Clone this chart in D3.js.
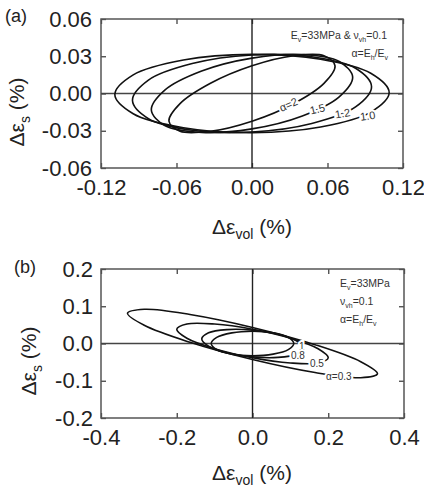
<!DOCTYPE html>
<html>
<head>
<meta charset="utf-8">
<script src="https://cdn.jsdelivr.net/npm/d3@7"></script>
<style>
  body { margin: 0; background: #fff; }
  svg { display: block; font-family: "Liberation Sans", Arial, sans-serif; }
</style>
</head>
<body>
<div id="chart"></div>
<script>
var svgWidth = 424;
var svgHeight = 487;

// tick values for both panels
var ticksAX = [-0.12, -0.06, 0, 0.06, 0.12];
var ticksAY = [-0.06, -0.03, 0, 0.03, 0.06];
var ticksBX = [-0.4, -0.2, 0, 0.2, 0.4];
var ticksBY = [-0.2, -0.1, 0, 0.1, 0.2];

// panel (a) loops, [dEvol, dEs] in %
var loopA_20 = [[0.066, 0.0223], [0.0572, 0.0304], [0.033, 0.0304], [0, 0.0223], [-0.033, 0.0082], [-0.0572, -0.0082],
  [-0.066, -0.0223], [-0.0572, -0.0304], [-0.033, -0.0304], [0, -0.0223], [0.033, -0.0082], [0.0572, 0.0082]];
var loopA_15 = [[0.080, 0.0133], [0.0693, 0.0258], [0.040, 0.0314], [0, 0.0285], [-0.040, 0.0181], [-0.0693, 0.0027],
  [-0.080, -0.0133], [-0.0693, -0.0258], [-0.040, -0.0314], [0, -0.0285], [0.040, -0.0181], [0.0693, -0.0027]];
var loopA_12 = [[0.095, 0.0055], [0.0823, 0.0203], [0.0475, 0.0296], [0, 0.0310], [-0.0475, 0.0241], [-0.0823, 0.0108],
  [-0.095, -0.0055], [-0.0823, -0.0203], [-0.0475, -0.0296], [0, -0.0310], [0.0475, -0.0241], [0.0823, -0.0108]];
var loopA_10 = [[0.109, 0.0008], [0.0944, 0.0163], [0.0545, 0.0276], [0, 0.0315], [-0.0545, 0.0270], [-0.0944, 0.0150],
  [-0.109, -0.0008], [-0.0944, -0.0163], [-0.0545, -0.0276], [0, -0.0315], [0.0545, -0.0270], [0.0944, -0.0150]];

// panel (b) loops
var loopB_03 = [[0.33, -0.0812], [0.2858, -0.0488], [0.165, -0.0032], [0, 0.0431], [-0.165, 0.0780], [-0.2858, 0.0919],
  [-0.33, 0.0812], [-0.2858, 0.0488], [-0.165, 0.0032], [0, -0.0431], [0.165, -0.0780], [0.2858, -0.0919]];
var loopB_05 = [[0.2, -0.0382], [0.1732, -0.0140], [0.1, 0.0140], [0, 0.0382], [-0.1, 0.0522], [-0.1732, 0.0522],
  [-0.2, 0.0382], [-0.1732, 0.0140], [-0.1, -0.0140], [0, -0.0382], [0.1, -0.0522], [0.1732, -0.0522]];
var loopB_08 = [[0.134, -0.0124], [0.116, 0.0073], [0.067, 0.0249], [0, 0.0359], [-0.067, 0.0373], [-0.116, 0.0287],
  [-0.134, 0.0124], [-0.116, -0.0073], [-0.067, -0.0249], [0, -0.0359], [0.067, -0.0373], [0.116, -0.0287]];
var loopB_10 = [[0.109, 0], [0.0944, 0.0165], [0.0545, 0.0286], [0, 0.033], [-0.0545, 0.0286], [-0.0944, 0.0165],
  [-0.109, 0], [-0.0944, -0.0165], [-0.0545, -0.0286], [0, -0.033], [0.0545, -0.0286], [0.0944, -0.0165]];

// curve labels: text, x, y (data units), rotation
var labelsA = [["α=2", 0.029, -0.009, -24], ["1.5", 0.052, -0.0125, -14], ["1.2", 0.072, -0.016, -10], ["1.0", 0.092, -0.018, -8]];
var labelsB = [["1", 0.13, -0.008, 0], ["0.8", 0.12, -0.031, 0], ["0.5", 0.17, -0.053, 0], ["α=0.3", 0.228, -0.088, 0]];

var svg = d3.select("#chart").append("svg")
  .attr("width", svgWidth)
  .attr("height", svgHeight);

var lineGen = d3.line().curve(d3.curveCatmullRomClosed.alpha(0.5));

function drawPanel(opt) {
  var x = d3.scaleLinear().domain(opt.xDomain).range([opt.left, opt.right]);
  var y = d3.scaleLinear().domain(opt.yDomain).range([opt.bottom, opt.top]);
  var g = svg.append("g");

  var inner = -5;
  function strip(sel) { sel.select(".domain").remove(); }

  var bx = g.append("g").attr("transform", "translate(0," + opt.bottom + ")")
    .call(d3.axisBottom(x).tickValues(opt.xTicks).tickSize(inner).tickPadding(opt.padX).tickFormat(opt.fmtX));
  var lx = g.append("g").attr("transform", "translate(" + opt.left + ",0)")
    .call(d3.axisLeft(y).tickValues(opt.yTicks).tickSize(inner).tickPadding(opt.padY).tickFormat(opt.fmtY));
  var tx = g.append("g").attr("transform", "translate(0," + opt.top + ")")
    .call(d3.axisTop(x).tickValues(opt.xTicks).tickSize(inner).tickFormat(""));
  var rx = g.append("g").attr("transform", "translate(" + opt.right + ",0)")
    .call(d3.axisRight(y).tickValues(opt.yTicks).tickSize(inner).tickFormat(""));
  [bx, lx, tx, rx].forEach(function(a) {
    strip(a);
    a.selectAll("line").attr("stroke", "#444").attr("stroke-width", 1.3);
    a.selectAll("text").attr("font-size", 22).attr("fill", "#222")
      .attr("font-family", "'Liberation Sans', Arial, sans-serif");
  });

  // frame
  g.append("rect")
    .attr("x", opt.left).attr("y", opt.top)
    .attr("width", opt.right - opt.left).attr("height", opt.bottom - opt.top)
    .attr("fill", "none").attr("stroke", "#555").attr("stroke-width", 1.5);

  // zero lines
  g.append("line").attr("x1", opt.left).attr("x2", opt.right)
    .attr("y1", y(0)).attr("y2", y(0)).attr("stroke", "#444").attr("stroke-width", 1.4);
  g.append("line").attr("x1", x(0)).attr("x2", x(0))
    .attr("y1", opt.top).attr("y2", opt.bottom).attr("stroke", "#222").attr("stroke-width", 1.4);

  g.selectAll("path.loop")
    .data(opt.loops)
    .enter()
    .append("path")
    .attr("class", "loop")
    .attr("d", function(d) {
      return lineGen(d.map(function(p) { return [x(p[0]), y(p[1])]; }));
    })
    .attr("fill", "none")
    .attr("stroke", "#111")
    .attr("stroke-width", 1.6);

  g.selectAll("text.clab")
    .data(opt.labels)
    .enter()
    .append("text")
    .attr("class", "clab")
    .attr("transform", function(d) {
      return "translate(" + x(d[1]) + "," + y(d[2]) + ") rotate(" + d[3] + ")";
    })
    .attr("text-anchor", "middle")
    .attr("dy", "0.35em")
    .attr("font-size", opt.labelSize)
    .attr("fill", "#333")
    .attr("stroke", "#fff")
    .attr("stroke-width", 4)
    .attr("paint-order", "stroke")
    .text(function(d) { return d[0]; });

  // axis titles
  var xt = g.append("text")
    .attr("x", opt.xTitle[0]).attr("y", opt.xTitle[1])
    .attr("text-anchor", "middle").attr("font-size", 21).attr("fill", "#222");
  xt.append("tspan").text("Δε");
  xt.append("tspan").attr("dy", 5).attr("font-size", 14).text("vol");
  xt.append("tspan").attr("dy", -5).text(" (%)");

  var yt = g.append("text")
    .attr("transform", "translate(" + opt.yTitle[0] + "," + opt.yTitle[1] + ") rotate(-90)")
    .attr("text-anchor", "middle").attr("font-size", 21).attr("fill", "#222");
  yt.append("tspan").text("Δε");
  yt.append("tspan").attr("dy", 6).attr("font-size", 14).text("s");
  yt.append("tspan").attr("dy", -6).text(" (%)");

  g.append("text")
    .attr("x", opt.tag[1]).attr("y", opt.tag[2])
    .attr("font-size", 18).attr("fill", "#222")
    .text(opt.tag[0]);

  return { g: g, x: x, y: y };
}

var pa = drawPanel({
  left: 101, right: 403, top: 19, bottom: 168,
  xDomain: [-0.12, 0.12], yDomain: [-0.06, 0.06],
  xTicks: ticksAX, yTicks: ticksAY,
  fmtX: function(d) { return d.toFixed(2); },
  fmtY: function(d) { return d.toFixed(2); },
  padX: 11, padY: 9,
  loops: [loopA_20, loopA_15, loopA_12, loopA_10],
  labels: labelsA, labelSize: 11,
  xTitle: [252, 234], yTitle: [24, 112],
  tag: ["(a)", 5, 22]
});

var pb = drawPanel({
  left: 101, right: 404, top: 269, bottom: 418,
  xDomain: [-0.4, 0.4], yDomain: [-0.2, 0.2],
  xTicks: ticksBX, yTicks: ticksBY,
  fmtX: function(d) { return d.toFixed(1); },
  fmtY: function(d) { return d.toFixed(1); },
  padX: 11, padY: 8,
  loops: [loopB_03, loopB_05, loopB_08, loopB_10],
  labels: labelsB, labelSize: 10,
  xTitle: [252, 480], yTitle: [36, 361],
  tag: ["(b)", 14, 273]
});

// parameter notes
function note(g, x0, y0, anchor, parts) {
  var t = g.append("text").attr("x", x0).attr("y", y0)
    .attr("text-anchor", anchor).attr("font-size", 10.5).attr("fill", "#333");
  parts.forEach(function(p) {
    if (p[1] === "sub") {
      t.append("tspan").attr("dy", 3).attr("font-size", 7).text(p[0]);
    } else {
      t.append("tspan").attr("dy", p[1] === "back" ? -3 : 0).text(p[0]);
    }
  });
}

note(pa.g, 387, 39, "end", [["E"], ["v", "sub"], ["=33MPa & ν", "back"], ["vh", "sub"], ["=0.1", "back"]]);
note(pa.g, 388, 57, "end", [["α=E"], ["h", "sub"], ["/E", "back"], ["v", "sub"]]);

note(pb.g, 340, 287, "start", [["E"], ["v", "sub"], ["=33MPa", "back"]]);
note(pb.g, 340, 305, "start", [["ν"], ["vh", "sub"], ["=0.1", "back"]]);
note(pb.g, 340, 323, "start", [["α=E"], ["h", "sub"], ["/E", "back"], ["v", "sub"]]);
</script>
</body>
</html>
